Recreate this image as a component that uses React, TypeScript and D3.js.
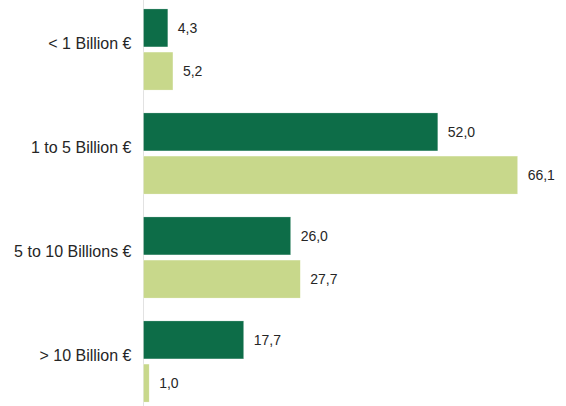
import * as d3 from 'd3';

const width = 566;
const height = 406;

const categories = ['< 1 Billion €', '1 to 5 Billion €', '5 to 10 Billions €', '> 10 Billion €'];
const seriesKeys = ['first', 'second'];
const firstValues = [4.3, 52.0, 26.0, 17.7];
const secondValues = [5.2, 66.1, 27.7, 1.0];
const colors = ['#0d6d48', '#c8d88b'];

const fmt = (v: number) => v.toFixed(1).replace('.', ',');

export default function App() {
  const x = d3.scaleLinear([0, 70], [143.5, 143.5 + 70 * 5.66]);
  const y = d3
    .scaleBand<string>()
    .domain(categories)
    .range([-2.5, 413.5])
    .paddingInner(0.22)
    .paddingOuter(0.11);
  const inner = d3
    .scaleBand<string>()
    .domain(seriesKeys)
    .range([0, y.bandwidth()])
    .paddingInner(0.12);
  const series = [firstValues, secondValues];

  return (
    <div style={{ position: 'absolute', left: 0, top: 0 }}>
      <svg width={width} height={height} style={{ display: 'block', background: '#fff' }}>
        <line x1={x(0)} x2={x(0)} y1={0} y2={height} stroke="#e2e2e2" strokeWidth={1} />
        {categories.map((c, i) => (
          <g key={c} transform={`translate(0,${y(c)})`}>
            <text
              x={131.5}
              y={y.bandwidth() / 2}
              textAnchor="end"
              fontFamily="'Liberation Sans', Arial, sans-serif"
              fontSize={16}
              fill="#262626"
            >
              {c}
            </text>
            {seriesKeys.map((k, j) => {
              const v = series[j][i];
              const by = inner(k)!;
              return (
                <g key={k}>
                  <rect
                    x={x(0)}
                    y={by}
                    width={x(v) - x(0)}
                    height={inner.bandwidth()}
                    fill={colors[j]}
                    stroke="#fff"
                    strokeOpacity={0.5}
                    strokeWidth={0.5}
                  />
                  <text
                    x={x(v) + 10}
                    y={by + inner.bandwidth() / 2}
                    dy="0.35em"
                    fontFamily="'Liberation Sans', Arial, sans-serif"
                    fontSize={14}
                    fill="#262626"
                  >
                    {fmt(v)}
                  </text>
                </g>
              );
            })}
          </g>
        ))}
      </svg>
    </div>
  );
}
